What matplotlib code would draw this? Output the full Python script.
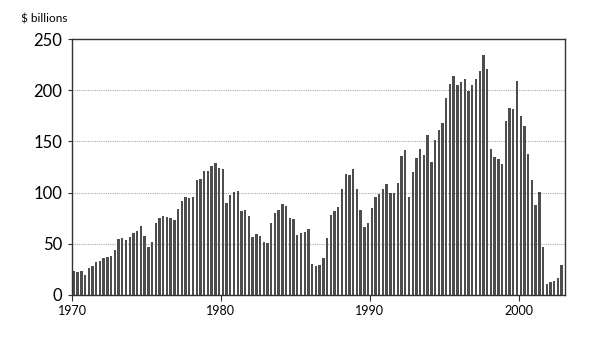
import numpy as np
import matplotlib
matplotlib.use("Agg")
import matplotlib.pyplot as plt

# quarterly values, $ billions, 1970Q1 - 2002Q4
start_year = 1970
values = [
    23, 22, 23.5, 20, 26, 28, 32, 33, 36, 37,
    38.5, 44, 54.5, 55.5, 54, 57, 60.5, 62.5, 67.5, 58,
    47, 52, 70, 75, 77.5, 76.5, 75, 73.5, 84, 91.5,
    96, 94.5, 96, 112, 113.5, 121.5, 121, 126, 129, 124,
    123.5, 90, 98, 100.5, 101.5, 82, 83, 77, 57, 60,
    58, 51.5, 51, 70, 80, 83, 89, 87, 75, 74,
    59, 60.5, 62, 64.5, 30, 28.5, 29, 36.5, 56, 78,
    82, 86, 104, 118, 117, 123, 103.5, 83, 66, 70,
    85, 96, 98.5, 103.5, 108.5, 100, 100, 109, 136, 142,
    95.5, 120, 133.5, 143, 137, 156, 130, 151, 161.5, 168,
    192.5, 206.5, 214, 205, 208, 211, 199.5, 205, 210.5, 218.5,
    234, 221, 143, 135, 133, 128, 170, 183, 182, 209,
    175, 165, 138, 112, 87.5, 101, 47, 11, 13, 14,
    17, 29,
]
x_ticks = [1970, 1980, 1990, 2000]
y_ticks = [0, 50, 100, 150, 200, 250]

x = start_year + np.arange(len(values)) * 0.25 + 0.125

plt.rcParams['font.family'] = ['Lato', 'DejaVu Sans']

fig = plt.figure(figsize=(6, 3.54), dpi=100)
ax = fig.add_axes([0.12, 0.1667, 0.8217, 0.7231])

ax.bar(x, values, width=0.16, color='#4d4d4d', edgecolor='none', zorder=2)

ax.set_xlim(1970, 2003.1)
ax.set_ylim(0, 250)
ax.set_xticks(x_ticks)
ax.set_yticks(y_ticks)
ax.tick_params(axis='y', labelsize=12, length=3, color='#333333', pad=4)
ax.tick_params(axis='x', labelsize=9, length=4, color='#333333', pad=3)

for v in y_ticks[1:-1]:
    ax.axhline(v, color='#aaaaaa', linewidth=0.8, linestyle=(0, (1, 1)), zorder=1)

for s in ax.spines.values():
    s.set_color('#333333')
    s.set_linewidth(1.0)

fig.text(0.035, 0.945, '$ billions', fontsize=8.5, ha='left', va='center')

fig.savefig('out.png', dpi=100)
